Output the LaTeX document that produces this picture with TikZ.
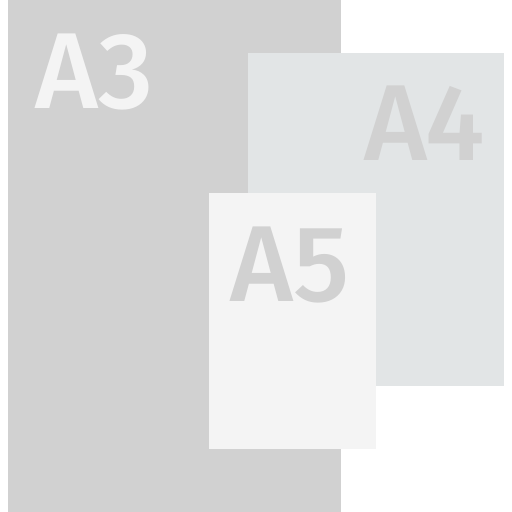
\documentclass[tikz,border=0pt]{standalone}
\usepackage{fontspec}
\setmainfont{Fira Sans}
\newfontfamily\sizefont{Fira Sans Medium}
\definecolor{a3gray}{HTML}{D1D1D1}
\definecolor{a4gray}{HTML}{E2E5E6}
\definecolor{a5gray}{HTML}{F4F4F4}
\tikzset{
  sheet/.style={draw=none,inner sep=0pt,outer sep=0pt},
  size/.style={inner sep=0pt,font=\sizefont\fontsize{108}{108}\selectfont}
}
\begin{document}
\begin{tikzpicture}[x=1pt,y=1pt]
  \useasboundingbox (0,0) rectangle (512,512);
  \node[sheet,fill=a3gray,minimum width=333,minimum height=512] (a3) at (174.5,256) {};
  \node[sheet,fill=a4gray,minimum width=256,minimum height=333] (a4) at (376,292.5) {};
  \node[sheet,fill=a5gray,minimum width=167,minimum height=256] (a5) at (292.5,191) {};

  \node[size,text=a5gray] (t3) at (95,440) {A3};
  \node[size,text=a3gray] (t4) at (425,389) {A4};
  \node[size,text=a3gray] (t5) at (290,247) {A5};
\end{tikzpicture}
\end{document}
